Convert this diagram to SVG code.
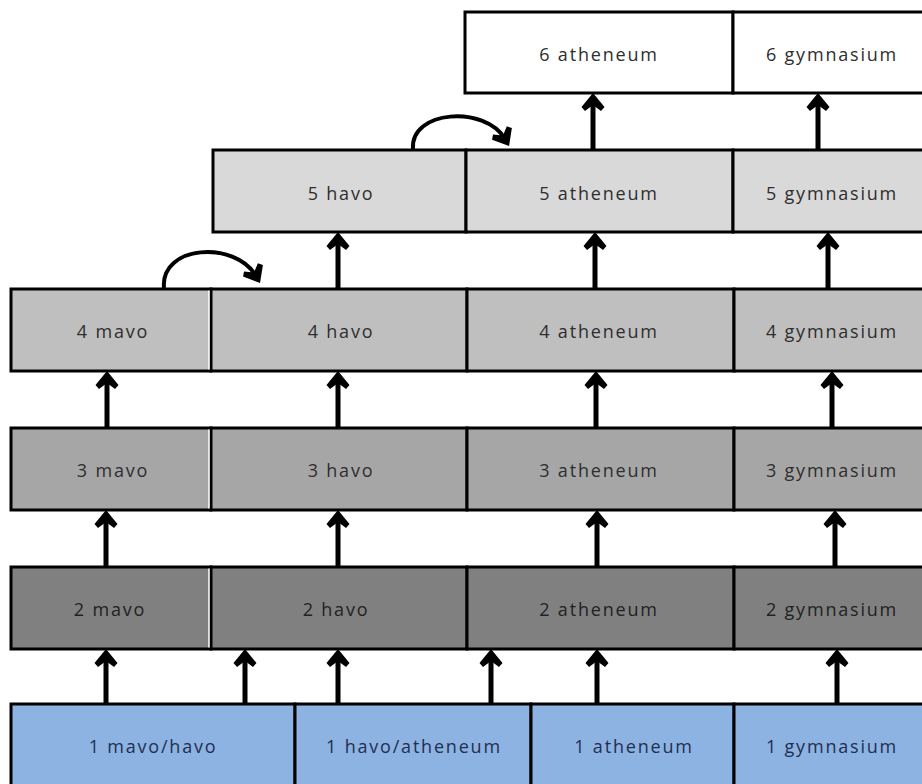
<svg xmlns="http://www.w3.org/2000/svg" width="922" height="784" viewBox="0 0 922 784">
<style>
.box{stroke:#000;stroke-width:3}
.r6{fill:#ffffff}.r5{fill:#d9d9d9}.r4{fill:#bfbfbf}.r3{fill:#a6a6a6}.r2{fill:#808080}.r1{fill:#8db3e2}
text{font-family:"Open Sans","Liberation Sans",Arial,sans-serif;font-size:18px;letter-spacing:1.8px;text-anchor:middle;fill:#2e2e2e}
.r1t{fill:#1f2f52}
.r2t{fill:#222}
.arr{fill:none;stroke:#000;stroke-width:5;marker-end:url(#ah)}
.cur{fill:none;stroke:#000;stroke-width:4;marker-end:url(#ah)}
.sep{stroke:#fff;stroke-width:1.5}
</style>
<defs>
<marker id="ah" markerUnits="userSpaceOnUse" markerWidth="30" markerHeight="30" viewBox="-15 -15 30 30" refX="0" refY="0" orient="auto">
<path d="M8,0 L-6,-11.5 L-10,-8 L-4,0 L-10,8 L-6,11.5 Z" fill="#000"/>
</marker>
</defs>
<rect width="922" height="784" fill="#fff"/>

<g id="n6a"><rect class="box r6" x="465" y="12" width="268" height="81"/><text x="599" y="61">6 atheneum</text></g>
<g id="n6g"><rect class="box r6" x="733" y="12" width="192" height="81"/><text x="832" y="61">6 gymnasium</text></g>

<g id="n5h"><rect class="box r5" x="213" y="150" width="253" height="82"/><text x="341" y="200">5 havo</text></g>
<g id="n5a"><rect class="box r5" x="466" y="150" width="267" height="82"/><text x="599" y="200">5 atheneum</text></g>
<g id="n5g"><rect class="box r5" x="733" y="150" width="192" height="82"/><text x="832" y="200">5 gymnasium</text></g>

<g id="n4m"><rect class="box r4" x="11" y="289" width="200" height="82"/><text x="113" y="338">4 mavo</text></g>
<g id="n4h"><rect class="box r4" x="211" y="289" width="256" height="82"/><text x="341" y="338">4 havo</text></g>
<g id="n4a"><rect class="box r4" x="467" y="289" width="267" height="82"/><text x="599" y="338">4 atheneum</text></g>
<g id="n4g"><rect class="box r4" x="734" y="289" width="191" height="82"/><text x="832" y="338">4 gymnasium</text></g>

<g id="n3m"><rect class="box r3" x="11" y="428" width="200" height="82"/><text x="113" y="477">3 mavo</text></g>
<g id="n3h"><rect class="box r3" x="211" y="428" width="256" height="82"/><text x="341" y="477">3 havo</text></g>
<g id="n3a"><rect class="box r3" x="467" y="428" width="267" height="82"/><text x="599" y="477">3 atheneum</text></g>
<g id="n3g"><rect class="box r3" x="734" y="428" width="191" height="82"/><text x="832" y="477">3 gymnasium</text></g>

<g id="n2m"><rect class="box r2" x="11" y="567" width="200" height="82"/><text class="r2t" x="110" y="616">2 mavo</text></g>
<g id="n2h"><rect class="box r2" x="211" y="567" width="256" height="82"/><text class="r2t" x="336" y="616">2 havo</text></g>
<g id="n2a"><rect class="box r2" x="467" y="567" width="267" height="82"/><text class="r2t" x="599" y="616">2 atheneum</text></g>
<g id="n2g"><rect class="box r2" x="734" y="567" width="191" height="82"/><text class="r2t" x="832" y="616">2 gymnasium</text></g>

<g id="sep"><line class="sep" x1="209" y1="290.5" x2="209" y2="369.5"/><line class="sep" x1="209" y1="429.5" x2="209" y2="508.5"/><line class="sep" x1="209" y1="568.5" x2="209" y2="647.5"/></g>

<g id="n1mh"><rect class="box r1" x="11" y="704" width="284" height="90"/><text class="r1t" x="153" y="753">1 mavo/havo</text></g>
<g id="n1ha"><rect class="box r1" x="295" y="704" width="236" height="90"/><text class="r1t" x="414" y="753">1 havo/atheneum</text></g>
<g id="n1a"><rect class="box r1" x="531" y="704" width="203" height="90"/><text class="r1t" x="634" y="753">1 atheneum</text></g>
<g id="n1g"><rect class="box r1" x="734" y="704" width="191" height="90"/><text class="r1t" x="832" y="753">1 gymnasium</text></g>

<g id="connectors">
<path class="arr" d="M106,704 V657"/>
<path class="arr" d="M245,704 V657"/>
<path class="arr" d="M338,704 V657"/>
<path class="arr" d="M491,704 V657"/>
<path class="arr" d="M597,704 V657"/>
<path class="arr" d="M837,704 V657"/>

<path class="arr" d="M106,567 V518"/>
<path class="arr" d="M338,567 V518"/>
<path class="arr" d="M597,567 V518"/>
<path class="arr" d="M835,567 V518"/>

<path class="arr" d="M107,428 V379"/>
<path class="arr" d="M338,428 V379"/>
<path class="arr" d="M596,428 V379"/>
<path class="arr" d="M832,428 V379"/>

<path class="arr" d="M338,289 V240"/>
<path class="arr" d="M595,289 V240"/>
<path class="arr" d="M828,289 V240"/>

<path class="arr" d="M593,150 V101"/>
<path class="arr" d="M818,150 V101"/>

<path class="cur" d="M164,288 C160,245 235,240 256,276"/>
<path class="cur" d="M413,149 C410,110 485,105 505,139"/>
</g>
</svg>
